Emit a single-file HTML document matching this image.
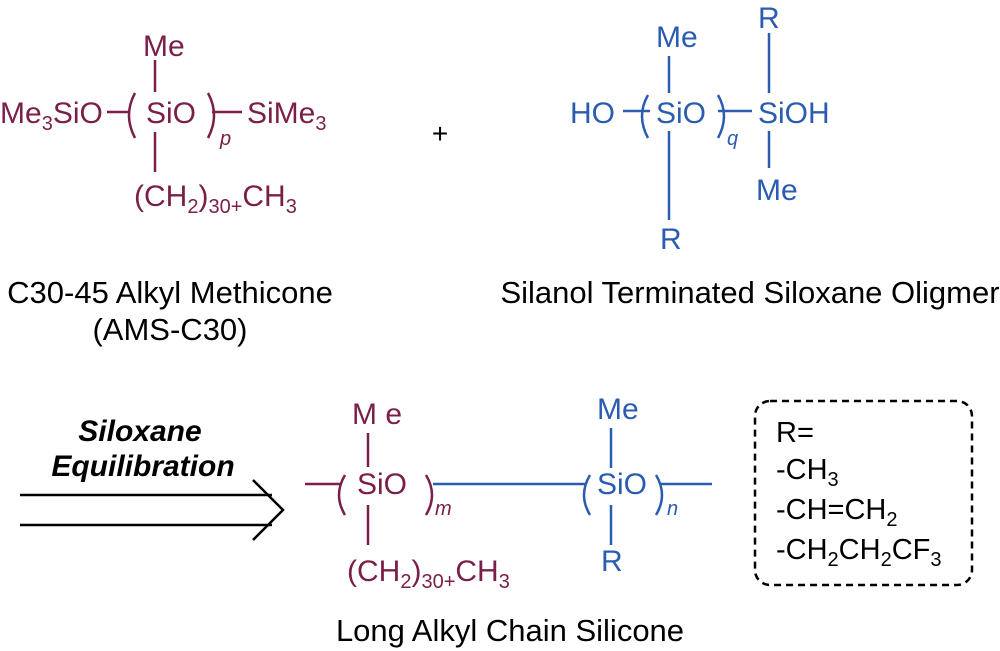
<!DOCTYPE html>
<html><head><meta charset="utf-8"><style>
html,body{margin:0;padding:0;background:#fff;}
svg{display:block;}
text{font-family:"Liberation Sans",Arial,sans-serif;}
</style></head><body>
<svg width="1000" height="651" viewBox="0 0 1000 651" xmlns="http://www.w3.org/2000/svg">
<g fill="#7a1f48" stroke="none" font-size="30">
<text x="0" y="123">Me<tspan font-size="20" dy="7">3</tspan><tspan dy="-7">SiO</tspan></text>
<text x="143" y="56">Me</text>
<text x="146" y="123">SiO</text>
<text x="220" y="145" font-size="20" font-style="italic">p</text>
<text x="247" y="123">SiMe<tspan font-size="20" dy="7">3</tspan></text>
<text x="134" y="206">(CH<tspan font-size="20" dy="7">2</tspan><tspan dy="-7">)</tspan><tspan font-size="20" dy="7">30+</tspan><tspan dy="-7">CH</tspan><tspan font-size="20" dy="7">3</tspan></text>
<text x="170" y="303" text-anchor="middle" fill="#000" font-size="31">C30-45 Alkyl Methicone</text>
<text x="170" y="340" text-anchor="middle" fill="#000" font-size="31">(AMS-C30)</text>
</g>
<g stroke="#7a1f48" stroke-width="2.5" fill="none">
<line x1="155" y1="60" x2="155" y2="92"/>
<line x1="155" y1="132" x2="155" y2="172"/>
<line x1="107" y1="112" x2="130" y2="112"/>
<line x1="212" y1="112" x2="242" y2="112"/>
<path d="M135 93 Q123 115 135 138"/>
<path d="M208 93 Q220 115 208 138"/>
</g>
<text x="440" y="143" font-size="28" text-anchor="middle">+</text>
<g fill="#2a5db0" font-size="30">
<text x="570" y="123">HO</text>
<text x="656" y="47">Me</text>
<text x="656" y="123">SiO</text>
<text x="727" y="145" font-size="20" font-style="italic">q</text>
<text x="758" y="28">R</text>
<text x="758" y="123">SiOH</text>
<text x="756" y="200">Me</text>
<text x="660" y="249">R</text>
<text x="750" y="303" text-anchor="middle" fill="#000" font-size="31">Silanol Terminated Siloxane Oligmer</text>
</g>
<g stroke="#2a5db0" stroke-width="2.5" fill="none">
<line x1="669" y1="56" x2="669" y2="93"/>
<line x1="669" y1="131" x2="669" y2="220"/>
<line x1="769" y1="33" x2="769" y2="93"/>
<line x1="769" y1="131" x2="769" y2="168"/>
<line x1="623" y1="111" x2="650" y2="111"/>
<line x1="718" y1="111" x2="752" y2="111"/>
<path d="M648 95 Q636 116 648 138"/>
<path d="M718 95 Q730 116 718 138"/>
</g>
<g font-weight="bold" font-style="italic" font-size="30" text-anchor="middle">
<text x="140" y="441">Siloxane</text>
<text x="143" y="476">Equilibration</text>
</g>
<g stroke="#000" stroke-width="2.5" fill="none">
<line x1="20" y1="495" x2="272" y2="495"/>
<line x1="20" y1="525" x2="272" y2="525"/>
<polyline points="253,480 283,510 253,540"/>
</g>
<g fill="#7a1f48" font-size="30">
<text x="352" y="424">M e</text>
<text x="357" y="494">SiO</text>
<text x="435" y="515" font-size="20" font-style="italic">m</text>
<text x="347" y="581">(CH<tspan font-size="20" dy="7">2</tspan><tspan dy="-7">)</tspan><tspan font-size="20" dy="7">30+</tspan><tspan dy="-7">CH</tspan><tspan font-size="20" dy="7">3</tspan></text>
</g>
<g stroke="#7a1f48" stroke-width="2.5" fill="none">
<line x1="368" y1="433" x2="368" y2="467"/>
<line x1="368" y1="505" x2="368" y2="545"/>
<line x1="305" y1="484" x2="340" y2="484"/>
<path d="M345 475 Q333 495 345 515"/>
<path d="M426 475 Q438 495 426 515"/>
</g>
<g fill="#2a5db0" font-size="30">
<text x="597" y="419">Me</text>
<text x="597" y="494">SiO</text>
<text x="667" y="515" font-size="20" font-style="italic">n</text>
<text x="601" y="571">R</text>
</g>
<g stroke="#2a5db0" stroke-width="2.5" fill="none">
<line x1="611" y1="428" x2="611" y2="468"/>
<line x1="611" y1="505" x2="611" y2="545"/>
<line x1="433" y1="484" x2="586" y2="484"/>
<line x1="660" y1="484" x2="712" y2="484"/>
<path d="M590 475 Q578 495 590 515"/>
<path d="M656 475 Q668 495 656 515"/>
</g>
<rect x="755" y="401" width="217" height="184" rx="15" fill="none" stroke="#000" stroke-width="2.5" stroke-dasharray="7,5"/>
<g font-size="29">
<text x="776" y="442">R=</text>
<text x="776" y="479">-CH<tspan font-size="20" dy="7">3</tspan></text>
<text x="776" y="519">-CH=CH<tspan font-size="20" dy="7">2</tspan></text>
<text x="776" y="559">-CH<tspan font-size="20" dy="7">2</tspan><tspan dy="-7">CH</tspan><tspan font-size="20" dy="7">2</tspan><tspan dy="-7">CF</tspan><tspan font-size="20" dy="7">3</tspan></text>
</g>
<text x="510" y="641" font-size="31" text-anchor="middle">Long Alkyl Chain Silicone</text>
</svg>
</body></html>
